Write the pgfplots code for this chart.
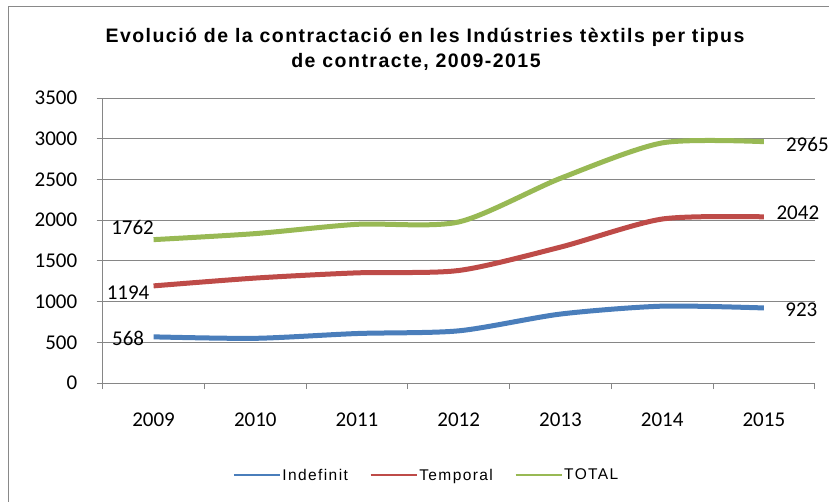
\documentclass[border=0pt]{standalone}
\usepackage{fontspec}
\setmainfont{Carlito}
\newfontfamily\titlefont[LetterSpace=7.5]{Liberation Sans}
\newfontfamily\legfont[LetterSpace=9]{Liberation Sans}
\usepackage{pgfplots}
\pgfplotsset{compat=1.18}
\definecolor{cblue}{HTML}{4A7EBB}
\definecolor{cred}{HTML}{BE4B48}
\definecolor{cgreen}{HTML}{98B954}
\definecolor{gridc}{HTML}{868686}
\definecolor{framec}{HTML}{898989}
\pgfplotsset{/pgf/number format/assume math mode=true, /pgf/number format/1000 sep={}}
\pgfplotsset{legend image code/.code={\draw[#1, line width=1.4pt] (0pt,0pt) -- (46pt,0pt);}}
\begin{document}
\begin{tikzpicture}[x=1pt,y=1pt]
\useasboundingbox (0,0) rectangle (829,502);
\draw[framec, line width=1pt] (8,0) -- (8,495) -- (829,495);
\node[anchor=base, font=\titlefont\bfseries\fontsize{19.5}{24}\selectfont] at (425,459) {Evolució de la contractació en les Indústries tèxtils per tipus};
\node[anchor=base, font=\titlefont\bfseries\fontsize{19.5}{24}\selectfont] at (416,434) {de contracte, 2009-2015};
\begin{axis}[
  at={(101,146)}, anchor=south west,
  width=712pt, height=285pt, scale only axis,
  xmin=-0.5, xmax=6.5, ymin=0, ymax=3500,
  ytick={0,500,...,3500},
  xtick={-0.5,0.5,...,6.5}, xticklabels={},
  extra x ticks={0,1,2,3,4,5,6},
  extra x tick labels={2009,2010,2011,2012,2013,2014,2015},
  extra x tick style={major tick length=0pt, grid=none},
  tick align=outside, tick pos=left, major tick length=6pt,
  axis x line*=bottom, axis y line*=left,
  axis line style={gridc, line width=1pt},
  tick style={gridc, line width=1pt},
  ymajorgrids, grid style={gridc, line width=1pt},
  tick label style={font=\fontsize{21}{25}\selectfont},
  yticklabel style={xshift=-16pt},
  xticklabel style={yshift=-26pt},
  legend style={at={(axis description cs:0.455,-0.323)}, anchor=center, legend columns=3, draw=none, fill=none,
    font=\legfont\fontsize{15.5}{18}\selectfont,
    /tikz/every even column/.append style={column sep=20pt}},
]
\addplot[draw=cblue, color=cblue, line width=5pt, smooth, tension=0.45] coordinates {(0,568)(1,550)(2,609)(3,642)(4,848)(5,945)(6,923)};
\addplot[draw=cred, color=cred, line width=5pt, smooth, tension=0.45] coordinates {(0,1194)(1,1290)(2,1354)(3,1383)(4,1670)(5,2015)(6,2042)};
\addplot[draw=cgreen, color=cgreen, line width=5pt, smooth, tension=0.45] coordinates {(0,1762)(1,1836)(2,1950)(3,1979)(4,2515)(5,2950)(6,2965)};
\legend{Indefinit, Temporal, TOTAL}
\pgfplotsset{lbl/.style 2 args={forget plot, draw=none, nodes near coords, nodes near coords style={font=\fontsize{21}{25}\selectfont, anchor=center, xshift=#1, yshift=#2}}}
\addplot[lbl={-21pt}{12pt}] coordinates {(0,1762)};
\addplot[lbl={-25.5pt}{-7pt}] coordinates {(0,1194)};
\addplot[lbl={-25.5pt}{-2pt}] coordinates {(0,568)};
\addplot[lbl={43.5pt}{-2.6pt}] coordinates {(6,2965)};
\addplot[lbl={34pt}{4pt}] coordinates {(6,2042)};
\addplot[lbl={37.5pt}{-2pt}] coordinates {(6,923)};
\end{axis}
\end{tikzpicture}
\end{document}
